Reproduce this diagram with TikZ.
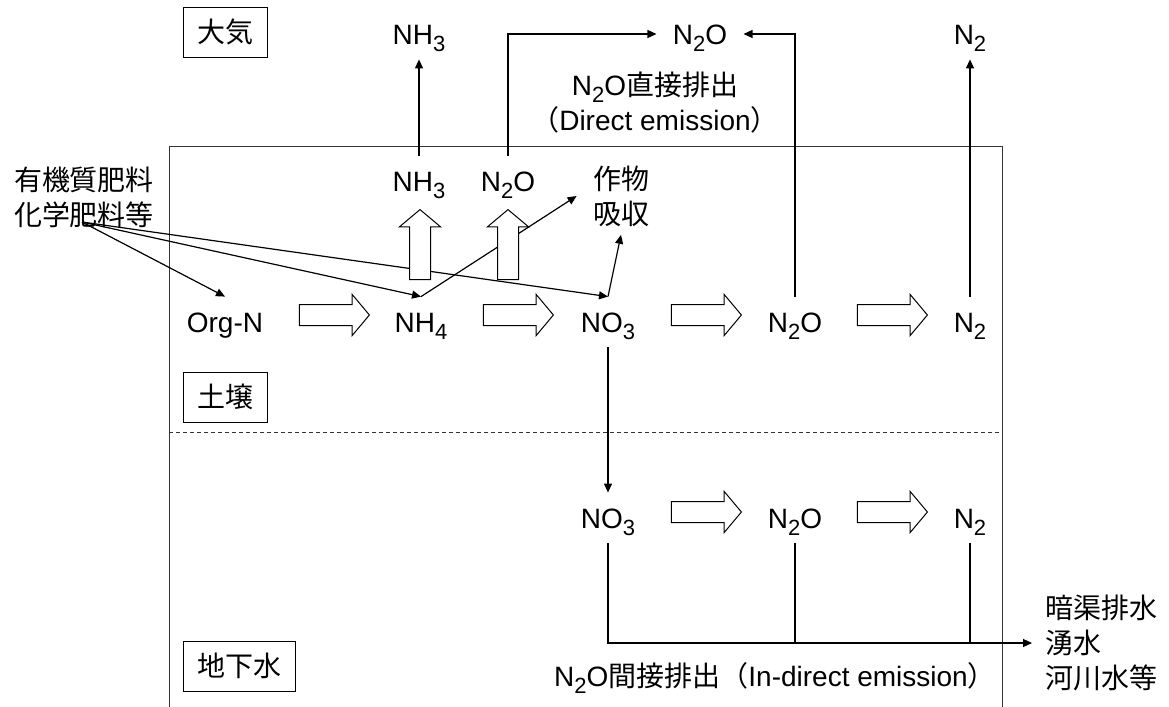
\documentclass[tikz,border=0pt]{standalone}
\usepackage{fontspec}
\setmainfont{Liberation Sans}
\newfontfamily\jp{Noto Sans CJK JP}
\usetikzlibrary{arrows.meta,positioning,shapes.arrows,calc}
\newcommand{\sbs}[1]{\raisebox{-3.5pt}{\fontsize{11}{11}\selectfont #1}}
\tikzset{
  chem/.style={inner xsep=8pt, inner ysep=7.5pt, text height=10pt, text depth=0pt,
               font=\fontsize{14}{17.5}\selectfont},
  note/.style={align=center, inner xsep=8pt, inner ysep=4pt,
               font=\fontsize{14}{17.5}\selectfont},
  zone/.style={draw, line width=0.5pt, anchor=west, inner xsep=7pt, minimum height=25pt,
               font=\fontsize{14}{17.5}\selectfont\jp},
  flow/.style={single arrow, draw, line width=0.5pt, fill=white, inner xsep=0pt, inner ysep=5pt,
               minimum height=35pt, single arrow head extend=5pt, single arrow tip angle=100},
  frame/.style={line width=0.5pt, draw=black!80},
  arr/.style={-{Triangle[length=4.5pt,width=4pt]}, line width=0.6pt},
  lnk/.style={line width=0.6pt},
}
\begin{document}
\begin{tikzpicture}[x=0.5pt,y=-0.5pt]
  \useasboundingbox (0,0) rectangle (1169,707);
  % soil and groundwater frame
  \draw[frame] (169,707) -- (169,146) -- (1002,146) -- (1002,707);
  \draw[frame, dash pattern=on 2pt off 1.5pt] (169,432) -- (1002,432);
  \node[zone] (Atm)  at (183,32)  {大気};
  \node[zone] (Soil) at (183,397) {土壌};
  \node[zone] (Gw)   at (183,666) {地下水};
  % atmosphere
  \node[chem] (NH3atm) at (419,34) {NH\sbs{3}};
  \node[chem] (N2Oatm) at (700,34) {N\sbs{2}O};
  \node[chem] (N2atm)  at (970,34) {N\sbs{2}};
  \node[note] (direct) at (655,103) {N\sbs{2}O{\jp 直接排出}\\{\jp （}Direct emission{\jp ）}};
  % soil
  \node[chem] (NH3soil) at (419,181) {NH\sbs{3}};
  \node[chem] (N2Osoil) at (508,181) {N\sbs{2}O};
  \node[note, font=\fontsize{14}{17.5}\selectfont\jp] (crop) at (621,196) {作物\\吸収};
  \node[note, font=\fontsize{14}{17.5}\selectfont\jp] (fert) at (84,197) {有機質肥料\\化学肥料等};
  \coordinate (fan) at (82,222);
  \node[chem] (OrgN) at (225,322) {Org-N};
  \node[chem] (NH4)  at (421,322) {NH\sbs{4}};
  \node[chem] (NO3)  at (608,322) {NO\sbs{3}};
  \node[chem] (N2O)  at (795,322) {N\sbs{2}O};
  \node[chem] (N2)   at (970,322) {N\sbs{2}};
  % groundwater
  \node[chem] (NO3gw) at (608,518) {NO\sbs{3}};
  \node[chem] (N2Ogw) at (795,518) {N\sbs{2}O};
  \node[chem] (N2gw)  at (970,518) {N\sbs{2}};
  \node[note, anchor=west, align=left, inner xsep=6.5pt, font=\fontsize{14}{17.5}\selectfont\jp]
    (drain) at (1032,643) {暗渠排水\\湧水\\河川水等};
  \node[note] (indirect) at (775,678) {N\sbs{2}O{\jp 間接排出（}In-direct emission{\jp ）}};
  % emissions
  \draw[arr] (NH3soil.north) -- (NH3atm.south);
  \draw[arr] (N2Osoil.north) |- (N2Oatm.west);
  \draw[arr] (N2O.north) |- (N2Oatm.east);
  \draw[arr] (N2.north) -- (N2atm.south);
  % inputs and uptake
  \foreach \t in {OrgN,NH4,NO3}
    \draw[arr] (fan) -- (\t.north);
  \draw[arr] (NH4.north) -- (crop.west);
  \draw[arr] (NO3.north) -- (crop.south);
  % leaching
  \draw[arr] (NO3.south) -- (NO3gw.north);
  \draw[arr] (NO3gw.south) |- (drain.west);
  \foreach \t in {N2Ogw,N2gw}
    \draw[lnk] (\t.south) -- (\t.south |- drain.west);
  % transformation arrows
  \foreach \x/\y [count=\i] in {330/315,514/315,702/315,888/315,702/512,888/512}
    \node[flow] (a\i) at (\x,\y) {};
  \node[flow, rotate=90] (u1) at (420,249) {};
  \node[flow, rotate=90] (u2) at (508,249) {};
\end{tikzpicture}
\end{document}
